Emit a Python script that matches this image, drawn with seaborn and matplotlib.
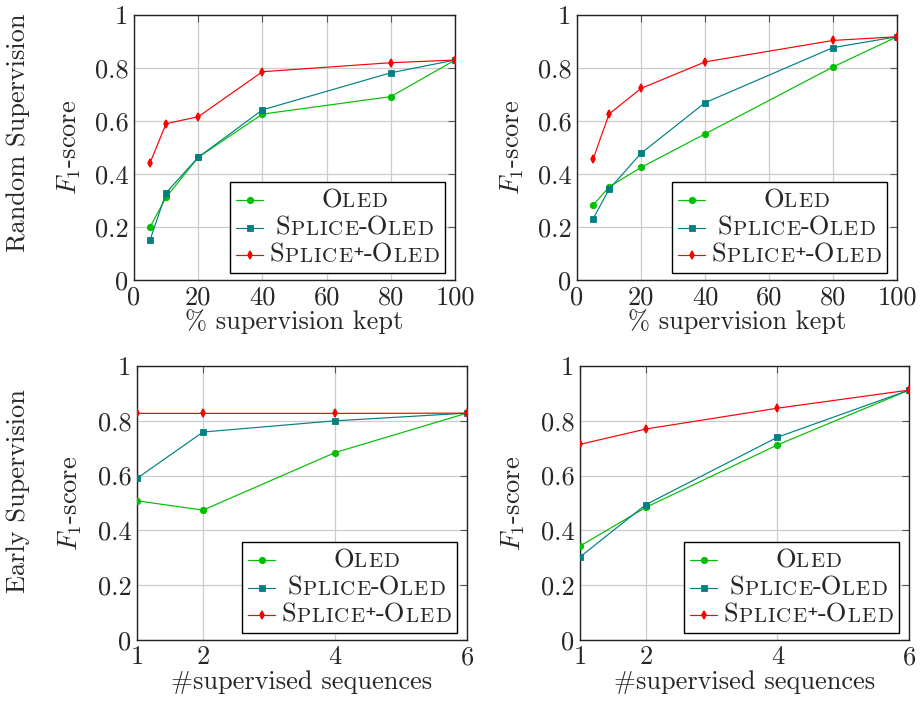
import matplotlib
matplotlib.use("Agg")
import numpy as np
import pandas as pd
import matplotlib.pyplot as plt
import seaborn as sns
from matplotlib.offsetbox import TextArea, HPacker, VPacker, DrawingArea, AnchoredOffsetbox
from matplotlib.lines import Line2D

# ---------------- data ----------------
methods = ["Oled", "Splice-Oled", "Splice+-Oled"]
pct_kept = [5, 10, 20, 40, 80, 100]
n_seqs = [1, 2, 4, 6]

random_left_oled = [0.20, 0.312, 0.463, 0.626, 0.692, 0.830]
random_left_splice = [0.151, 0.329, 0.463, 0.642, 0.782, 0.830]
random_left_splicep = [0.442, 0.590, 0.616, 0.786, 0.820, 0.830]

random_right_oled = [0.282, 0.351, 0.425, 0.551, 0.804, 0.918]
random_right_splice = [0.230, 0.342, 0.478, 0.669, 0.877, 0.918]
random_right_splicep = [0.455, 0.626, 0.723, 0.823, 0.904, 0.918]

early_left_oled = [0.508, 0.474, 0.684, 0.828]
early_left_splice = [0.590, 0.759, 0.800, 0.828]
early_left_splicep = [0.827, 0.827, 0.827, 0.828]

early_right_oled = [0.343, 0.484, 0.712, 0.912]
early_right_splice = [0.303, 0.494, 0.740, 0.912]
early_right_splicep = [0.714, 0.770, 0.846, 0.912]

y_ticks = [0, 0.2, 0.4, 0.6, 0.8, 1.0]
y_tick_labels = ["0", "0.2", "0.4", "0.6", "0.8", "1"]
x_ticks_top = [0, 20, 40, 60, 80, 100]
x_ticks_bottom = [1, 2, 4, 6]

row_titles = ["Random Supervision", "Early Supervision"]
xlabel_top = "% supervision kept"
xlabel_bottom = "#supervised sequences"
ylabel = r"$F_1$-score"

# small-caps legend labels: (text, is_big)
legend_parts = [
    [("O", True), ("LED", False)],
    [("S", True), ("PLICE", False), ("-O", True), ("LED", False)],
    [("S", True), ("PLICE", False), ("\u207A", None), ("-O", True), ("LED", False)],
]

# ---------------- style ----------------
colors = {"Oled": "#00bf00", "Splice-Oled": "#008080", "Splice+-Oled": "#ff0000"}
markers = {"Oled": "o", "Splice-Oled": "s", "Splice+-Oled": "d"}
msizes = {"Oled": 4.6, "Splice-Oled": 4.4, "Splice+-Oled": 4.0}
mews = {"Oled": 0.6, "Splice-Oled": 0.6, "Splice+-Oled": 1.1}

sns.set_style("white")
FAM = ["cmr10", "DejaVu Serif"]
plt.rcParams["font.family"] = FAM
plt.rcParams["mathtext.fontset"] = "cm"
plt.rcParams["axes.formatter.use_mathtext"] = True
plt.rcParams["axes.unicode_minus"] = False

BIG = 19
SMALL = 15
PLUS = 16
LETTER_SEP = 0.8
DPI = 100
W, H = 923, 706

fig = plt.figure(figsize=(W / DPI, H / DPI), dpi=DPI)

def px_axes(l, r, t, b):
    return fig.add_axes([l / W, 1 - b / H, (r - l) / W, (b - t) / H])

axes = [
    px_axes(134, 455, 15, 280),
    px_axes(577, 897, 15, 280),
    px_axes(137, 467, 366, 640),
    px_axes(580, 909, 366, 640),
]

panels = [
    (pct_kept, [random_left_oled, random_left_splice, random_left_splicep]),
    (pct_kept, [random_right_oled, random_right_splice, random_right_splicep]),
    (n_seqs, [early_left_oled, early_left_splice, early_left_splicep]),
    (n_seqs, [early_right_oled, early_right_splice, early_right_splicep]),
]


def text_chunk(t, kind):
    if kind is True:
        return TextArea(t, textprops=dict(fontsize=BIG, family=FAM))
    if kind is None:
        return TextArea(t, textprops=dict(fontsize=PLUS, family=["DejaVu Serif"],
                                          fontweight="bold"))
    letters = [TextArea(c, textprops=dict(fontsize=SMALL, family=FAM)) for c in t]
    return HPacker(children=letters, align="baseline", pad=0, sep=LETTER_SEP)


legends = []
for i, (ax, (xs, series)) in enumerate(zip(axes, panels)):
    rows = []
    for m, ys in zip(methods, series):
        rows.append(pd.DataFrame({"x": xs, "y": ys, "method": m}))
    df = pd.concat(rows, ignore_index=True)
    for m in methods:
        sub = df[df["method"] == m]
        sns.lineplot(data=sub, x="x", y="y", ax=ax, color=colors[m],
                     marker=markers[m], markersize=msizes[m],
                     markeredgecolor=colors[m], markeredgewidth=mews[m],
                     linewidth=0.85, legend=False, zorder=3)
    top = i < 2
    ax.set_ylim(0, 1)
    ax.set_yticks(y_ticks)
    ax.set_yticklabels(y_tick_labels)
    if top:
        ax.set_xlim(0, 100)
        ax.set_xticks(x_ticks_top)
        ax.set_xticklabels([str(v) for v in x_ticks_top])
        ax.set_xlabel(xlabel_top, fontsize=BIG, labelpad=0)
    else:
        ax.set_xlim(1, 6)
        ax.set_xticks(x_ticks_bottom)
        ax.set_xticklabels([str(v) for v in x_ticks_bottom])
        ax.set_xlabel(xlabel_bottom, fontsize=BIG, labelpad=1)
    ax.set_ylabel(ylabel, fontsize=BIG)
    ax.yaxis.set_label_coords(-0.16, 0.5)
    ax.grid(True, color="#cccccc", linewidth=0.9, zorder=0)
    ax.set_axisbelow(True)
    ax.tick_params(direction="in", length=5, width=0.8, color="#555555",
                   top=True, right=True, labelsize=BIG, pad=4)
    for sp in ax.spines.values():
        sp.set_color("#222222")
        sp.set_linewidth(1.0)

    # custom legend with small-caps labels
    leg_rows = []
    meta = []
    for m, parts in zip(methods, legend_parts):
        da = DrawingArea(24, 10, 0, 0)
        da.add_artist(Line2D([0, 19.5], [5, 5], color=colors[m], lw=0.85))
        da.add_artist(Line2D([9.75], [5], color=colors[m], marker=markers[m],
                             markersize=msizes[m], markeredgecolor=colors[m],
                             markeredgewidth=mews[m]))
        texts = [text_chunk(t, kind) for t, kind in parts]
        thp = HPacker(children=texts, align="baseline", pad=0, sep=0)
        sl = DrawingArea(0, 1)
        sr = DrawingArea(0, 1)
        leg_rows.append(HPacker(children=[da, sl, thp, sr], align="center", pad=0, sep=0))
        meta.append((thp, sl, sr))
    box = VPacker(children=leg_rows, align="left", pad=4.5, sep=2.5)
    axw = ax.get_position().width * W
    axh = ax.get_position().height * H
    anch = AnchoredOffsetbox(loc="lower right", child=box, pad=0, borderpad=0,
                             frameon=True,
                             bbox_to_anchor=(1 - 10 / axw, 7 / axh),
                             bbox_transform=ax.transAxes)
    anch.patch.set_edgecolor("black")
    anch.patch.set_linewidth(1.0)
    anch.zorder = 5
    ax.add_artist(anch)
    legends.append(meta)

fig.text(18 / W, 1 - 133 / H, row_titles[0], rotation=90, ha="center",
         va="center", fontsize=BIG)
fig.text(18 / W, 1 - 491 / H, row_titles[1], rotation=90, ha="center",
         va="center", fontsize=BIG)

# center the legend labels
renderer = fig.canvas.get_renderer()
for meta in legends:
    widths = [thp.get_bbox(renderer).width for thp, _, _ in meta]
    mw = max(widths)
    for (thp, sl, sr), w in zip(meta, widths):
        half = (mw - w) / 2 * 72 / DPI
        sl.width = half
        sr.width = half

fig.savefig("out.png", dpi=DPI)
